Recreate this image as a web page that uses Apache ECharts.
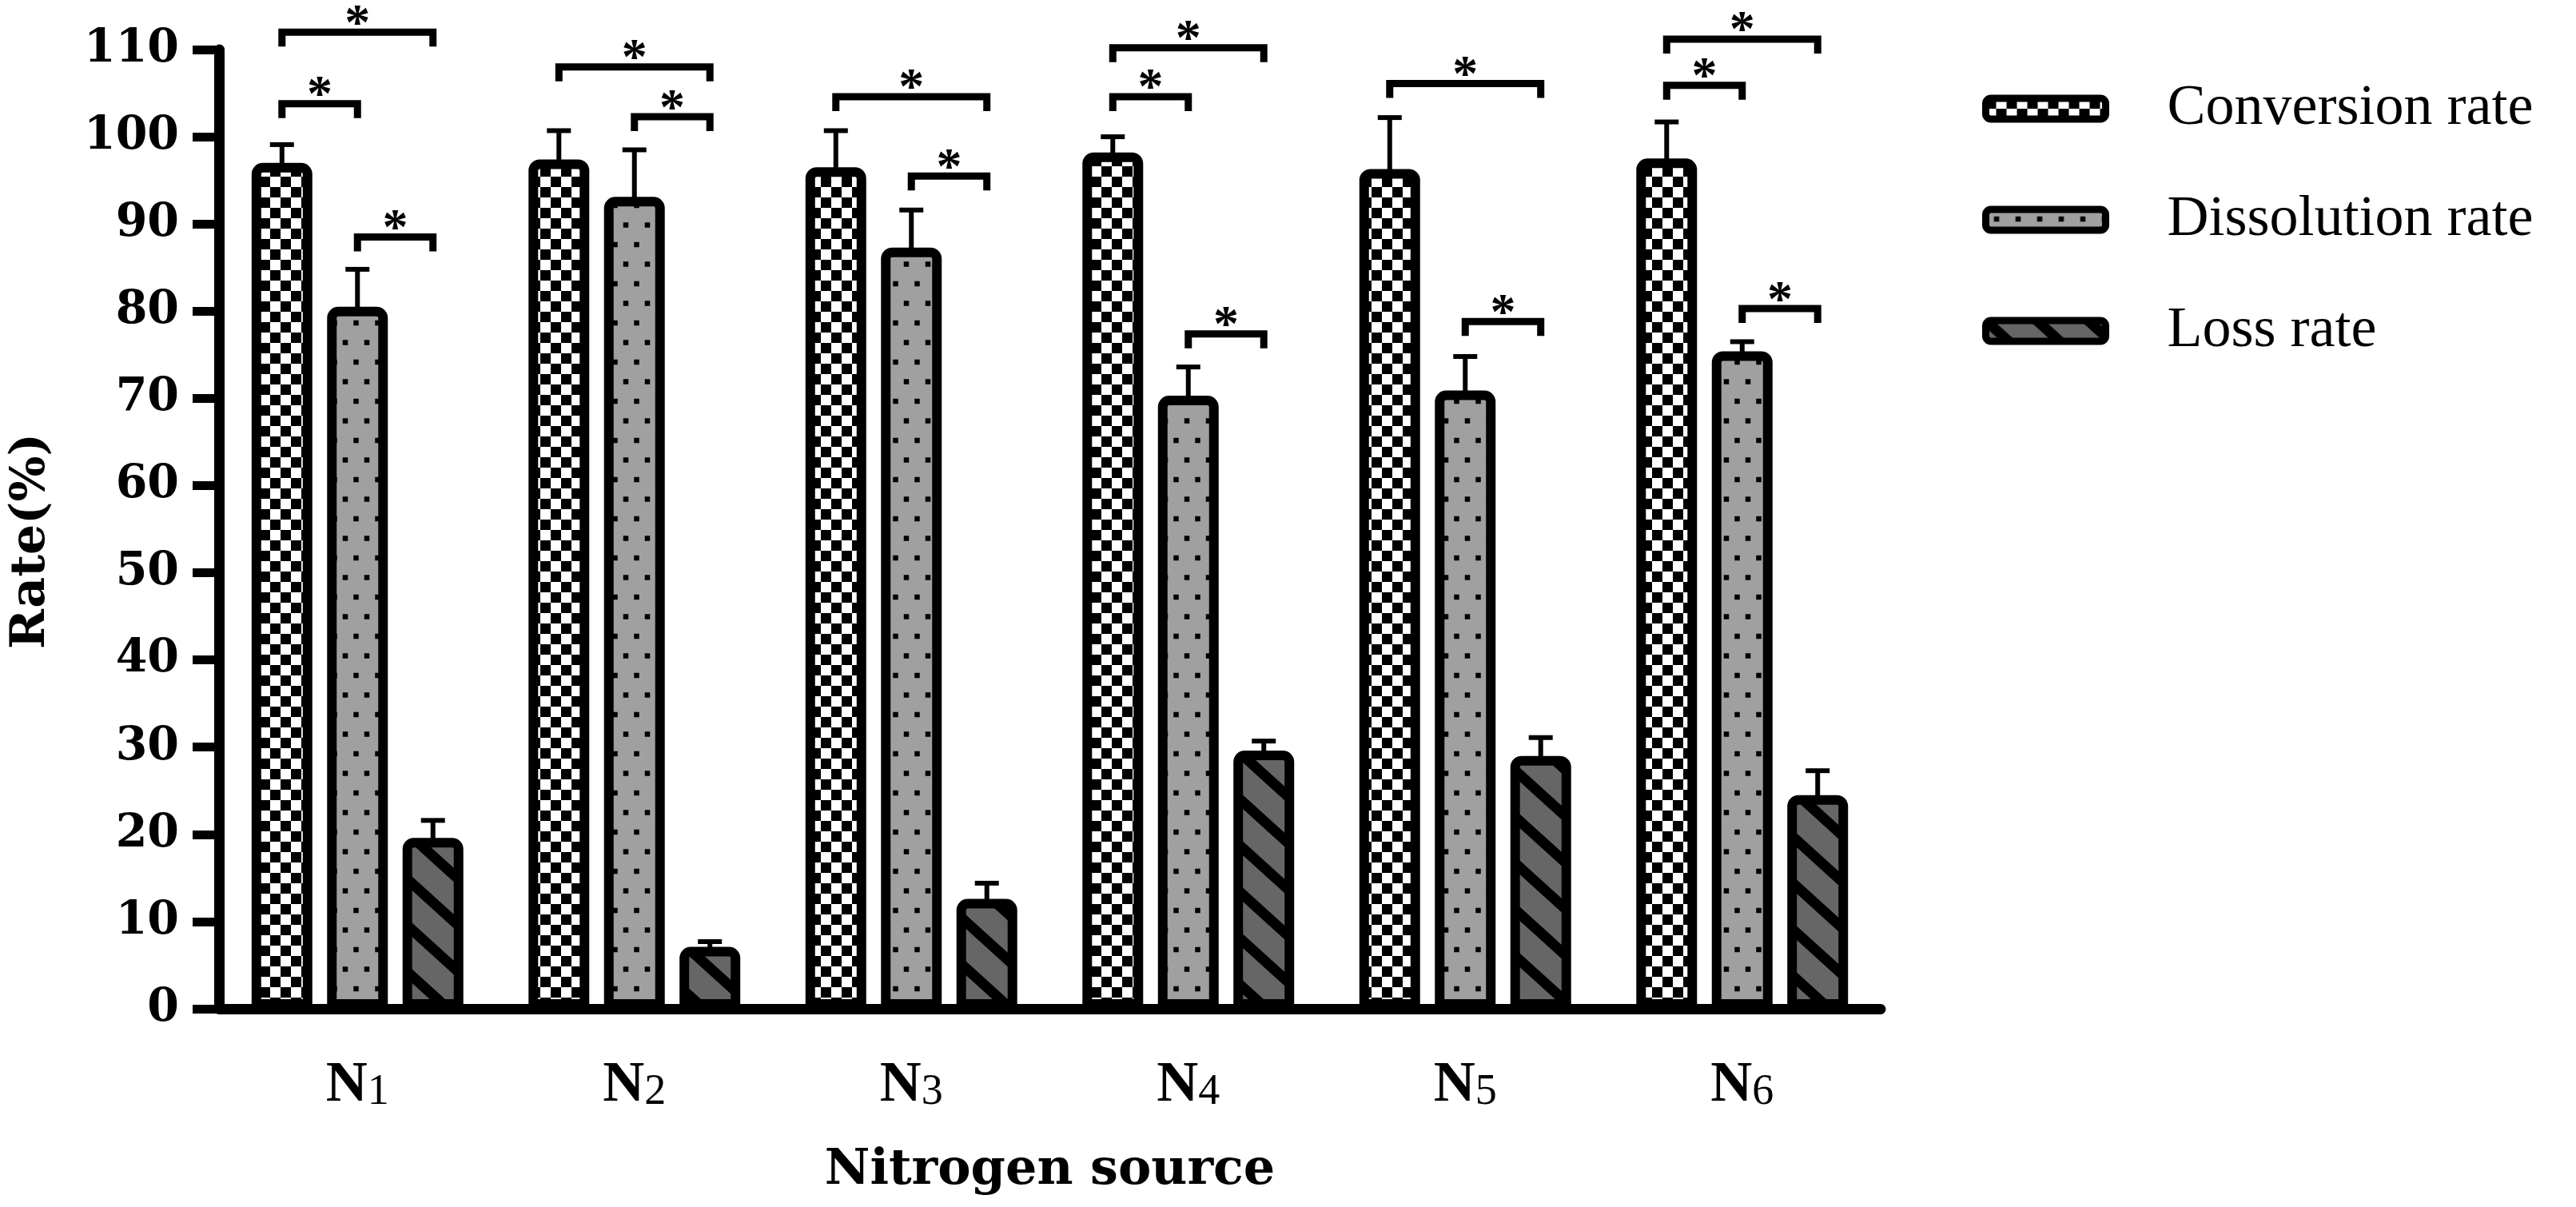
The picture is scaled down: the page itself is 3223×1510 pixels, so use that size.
<!DOCTYPE html>
<html>
<head>
<meta charset="utf-8">
<script src="https://cdn.jsdelivr.net/npm/echarts@6/dist/echarts.min.js"></script>
<style>
html,body{margin:0;padding:0;background:#fff;}
#chart{width:3223px;height:1510px;}
</style>
</head>
<body>
<div id="chart"></div>
<script>
// ---------- data ----------
const categories = ['N1', 'N2', 'N3', 'N4', 'N5', 'N6'];
const seriesNames = ['Conversion rate', 'Dissolution rate', 'Loss rate'];
const conversion   = [97.0, 97.4, 96.5, 98.2, 96.3, 97.5];
const conversionSD = [2.1, 3.3, 4.2, 1.8, 5.9, 4.2];
const dissolution   = [80.5, 93.1, 87.3, 70.3, 70.9, 75.4];
const dissolutionSD = [4.3, 5.4, 4.3, 3.3, 3.9, 1.1];
const loss   = [19.6, 7.1, 12.6, 29.6, 29.0, 24.5];
const lossSD = [2.0, 0.6, 1.8, 1.1, 2.1, 2.8];
const yTicks = [0, 10, 20, 30, 40, 50, 60, 70, 80, 90, 100, 110];
// significance brackets: group index, from bar, to bar, bracket level (value)
const sigGroup = [0, 0, 0, 1, 1, 2, 2, 3, 3, 3, 4, 4, 5, 5, 5];
const sigFrom  = [0, 0, 1, 0, 1, 0, 1, 0, 0, 1, 0, 1, 0, 0, 1];
const sigTo    = [2, 1, 2, 2, 2, 2, 2, 2, 1, 2, 2, 2, 2, 1, 2];
const sigLevel = [112.0, 103.8, 88.5, 108.0, 102.3, 104.6, 95.5, 110.2, 104.6, 77.4, 106.1, 78.8, 111.2, 105.9, 80.3];

// ---------- style ----------
const BAR_W = 76, BAR_GAP = 0.243, BORDER = 12;
const STEP = BAR_W * (1 + BAR_GAP);

function makeTile(w, h, draw) {
  const c = document.createElement('canvas');
  c.width = w; c.height = h;
  draw(c.getContext('2d'), w, h);
  return c;
}
const checker = makeTile(26, 26, (g, w, h) => {
  g.fillStyle = '#fff'; g.fillRect(0, 0, w, h);
  g.fillStyle = '#000'; g.fillRect(0, 0, 13, 13); g.fillRect(13, 13, 13, 13);
});
const dots = makeTile(27, 49, (g, w, h) => {
  g.fillStyle = '#a0a0a0'; g.fillRect(0, 0, w, h);
  g.fillStyle = '#000';
  const d = 6.5;
  g.fillRect(13.5 - d / 2, 12 - d / 2, d, d);
  g.fillRect(0 - d / 2, 36.5 - d / 2, d, d);
  g.fillRect(27 - d / 2, 36.5 - d / 2, d, d);
});
const stripes = makeTile(64, 58, (g, w, h) => {
  g.fillStyle = '#666666'; g.fillRect(0, 0, w, h);
  g.strokeStyle = '#000'; g.lineWidth = 13;
  for (const dy of [-h, 0, h]) {
    g.beginPath();
    g.moveTo(-w, -h + dy); g.lineTo(2 * w, 2 * h + dy);
    g.stroke();
  }
});
const fills = [
  { image: checker, repeat: 'repeat' },
  { image: dots, repeat: 'repeat' },
  { image: stripes, repeat: 'repeat' }
];
const values = [conversion, dissolution, loss];
const sds = [conversionSD, dissolutionSD, lossSD];

const barSeries = seriesNames.map((name, i) => ({
  name: name,
  type: 'bar',
  data: values[i],
  barWidth: BAR_W,
  barGap: (BAR_GAP * 100) + '%',
  itemStyle: {
    color: fills[i],
    borderColor: '#000',
    borderWidth: BORDER,
    borderRadius: [8, 8, 0, 0]
  },
  silent: true,
  z: 2
}));

const errData = [];
for (let s = 0; s < 3; s++) {
  for (let c = 0; c < categories.length; c++) {
    errData.push([c, values[s][c], sds[s][c], s]);
  }
}
const errSeries = {
  type: 'custom',
  name: 'err',
  data: errData,
  clip: false,
  silent: true,
  z: 3,
  renderItem: function (params, api) {
    const c = api.value(0), v = api.value(1), sd = api.value(2), s = api.value(3);
    const base = api.coord([c, v]);
    const top = api.coord([c, v + sd]);
    const x = base[0] + (s - 1) * STEP;
    return {
      type: 'group',
      children: [
        { type: 'line', shape: { x1: x, y1: base[1] + 4, x2: x, y2: top[1] }, style: { stroke: '#000', lineWidth: 6 } },
        { type: 'line', shape: { x1: x - 15, y1: top[1], x2: x + 15, y2: top[1] }, style: { stroke: '#000', lineWidth: 6 } }
      ]
    };
  }
};

const sigData = sigGroup.map((g, i) => [g, sigFrom[i], sigTo[i], sigLevel[i]]);
const sigSeries = {
  type: 'custom',
  name: 'sig',
  data: sigData,
  clip: false,
  silent: true,
  z: 4,
  renderItem: function (params, api) {
    const c = api.value(0), a = api.value(1), b = api.value(2), lv = api.value(3);
    const p = api.coord([c, lv]);
    const x1 = p[0] + (a - 1) * STEP, x2 = p[0] + (b - 1) * STEP, y = p[1];
    const leg = 18;
    return {
      type: 'group',
      children: [
        { type: 'polyline', shape: { points: [[x1, y + leg], [x1, y], [x2, y], [x2, y + leg]] },
          style: { stroke: '#000', lineWidth: 9, fill: null, lineJoin: 'miter' } },
        { type: 'text', style: { text: '*', x: (x1 + x2) / 2, y: y - 8, align: 'center', verticalAlign: 'middle',
          fontFamily: 'Liberation Serif', fontWeight: 'bold', fontSize: 64, fill: '#000' } }
      ]
    };
  }
};

const chart = echarts.init(document.getElementById('chart'));
chart.setOption({
  animation: false,
  backgroundColor: '#fff',
  grid: { left: 274, right: 870, top: 62, bottom: 248, containLabel: false },
  legend: {
    data: seriesNames,
    orient: 'vertical',
    left: 2475,
    top: 95,
    itemWidth: 150,
    itemHeight: 26,
    itemGap: 67,
    itemStyle: { borderWidth: 9, borderColor: '#000' },
    textStyle: { fontFamily: 'Liberation Serif', fontSize: 72, color: '#000', padding: [0, 0, 0, 72], lineHeight: 72 },
    selectedMode: false
  },
  xAxis: {
    type: 'category',
    data: categories,
    name: 'Nitrogen source',
    nameLocation: 'middle',
    nameGap: 172,
    nameTextStyle: { fontFamily: 'DejaVu Serif', fontWeight: 'bold', fontSize: 62, color: '#000' },
    axisLine: { lineStyle: { color: '#000', width: 13 } },
    axisTick: { alignWithLabel: true, length: 28, lineStyle: { color: '#000', width: 10 } },
    axisLabel: {
      margin: 52,
      formatter: function (v) { return '{n|' + v.charAt(0) + '}{s|' + v.slice(1) + '}'; },
      rich: {
        n: { fontFamily: 'Liberation Serif', fontWeight: 'bold', fontSize: 72, color: '#000', verticalAlign: 'bottom', lineHeight: 80 },
        s: { fontFamily: 'Liberation Serif', fontSize: 54, color: '#000', verticalAlign: 'bottom', lineHeight: 80 }
      }
    },
    splitLine: { show: false }
  },
  yAxis: {
    type: 'value',
    min: yTicks[0],
    max: yTicks[yTicks.length - 1],
    interval: yTicks[1] - yTicks[0],
    name: 'Rate(%)',
    nameLocation: 'middle',
    nameGap: 205,
    nameRotate: 90,
    nameTextStyle: { fontFamily: 'DejaVu Serif', fontWeight: 'bold', fontSize: 60, color: '#000', padding: [0, 30, 0, 0] },
    axisLine: { show: true, lineStyle: { color: '#000', width: 13 } },
    axisTick: { show: true, length: 33, lineStyle: { color: '#000', width: 11 } },
    axisLabel: { margin: 50, fontFamily: 'DejaVu Serif', fontWeight: 'bold', fontSize: 57, color: '#000' },
    splitLine: { show: false }
  },
  series: barSeries.concat([errSeries, sigSeries])
});
</script>
</body>
</html>
